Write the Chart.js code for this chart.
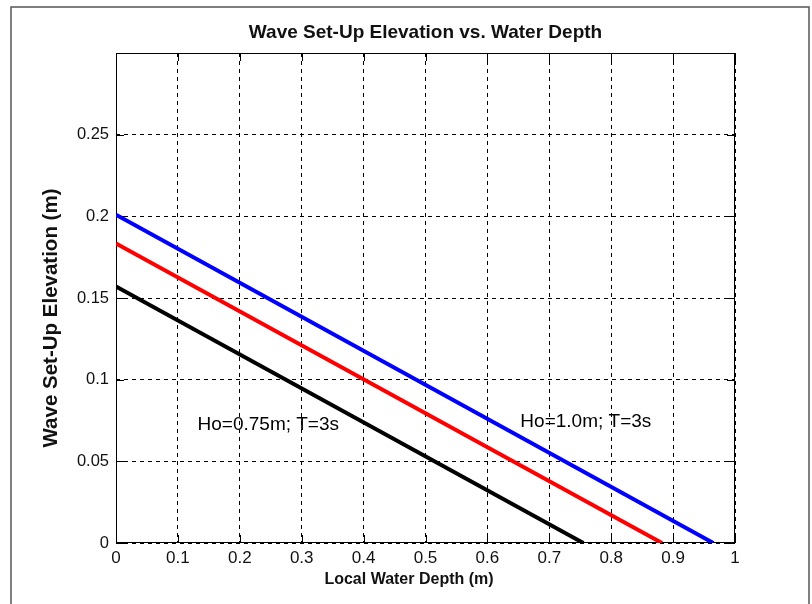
<!DOCTYPE html>
<html>
<head>
<meta charset="utf-8">
<script src="https://cdn.jsdelivr.net/npm/chart.js@4/dist/chart.umd.min.js"></script>
<style>
  body { margin: 0; background: #fff; }
  canvas { display: block; }
</style>
</head>
<body>
<canvas id="chart" width="812" height="604"></canvas>
<script>
'use strict';
// line end points (depth in m, set-up in m)
var depthBlue = [0, 0.965];
var setupBlue = [0.201, 0];
var depthRed = [0, 0.882];
var setupRed = [0.1834, 0];
var depthBlack = [0, 0.755];
var setupBlack = [0.157, 0];
var labelTexts = ['Ho=0.75m; T=3s', 'Ho=1.0m; T=3s'];

// where the two text labels sit, in data units
var labelPos = [{x: 0.246, y: 0.0722}, {x: 0.759, y: 0.074}];

function toPoints(xs, ys) {
	var pts = [];
	for (var i = 0; i < xs.length; i++) {
		pts.push({x: xs[i], y: ys[i]});
	}
	return pts;
}

Chart.defaults.font.family = 'Arial, "Liberation Sans", sans-serif';

function fmt(v) {
	return String(Number(v.toFixed(2)));
}

// matlab style box, inward ticks, frame and texts
var matlabBox = {
	id: 'matlabBox',
	beforeDatasetsDraw: function(chart) {
		var ctx = chart.ctx;
		var a = chart.chartArea;
		var xs = chart.scales.x, ys = chart.scales.y;
		ctx.save();
		ctx.strokeStyle = '#000';
		ctx.lineWidth = 1;
		ctx.setLineDash([]);
		ctx.strokeRect(a.left + 0.5, a.top + 0.5, a.right - a.left - 1, a.bottom - a.top - 1);
		var tl = 8;
		ctx.beginPath();
		xs.ticks.forEach(function(t) {
			var px = Math.round(xs.getPixelForValue(t.value)) + 0.5;
			ctx.moveTo(px, a.bottom);
			ctx.lineTo(px, a.bottom - tl);
			ctx.moveTo(px, a.top);
			ctx.lineTo(px, a.top + tl);
		});
		ys.ticks.forEach(function(t) {
			var py = Math.round(ys.getPixelForValue(t.value)) + 0.5;
			ctx.moveTo(a.left, py);
			ctx.lineTo(a.left + tl, py);
			ctx.moveTo(a.right, py);
			ctx.lineTo(a.right - tl, py);
		});
		ctx.stroke();
		ctx.restore();
	},
	afterDraw: function(chart) {
		var ctx = chart.ctx;
		var xs = chart.scales.x, ys = chart.scales.y;
		ctx.save();
		// outer figure frame
		ctx.strokeStyle = '#555';
		ctx.lineWidth = 1.5;
		ctx.beginPath();
		ctx.moveTo(11, 604);
		ctx.lineTo(11, 7);
		ctx.lineTo(809, 7);
		ctx.lineTo(809, 604);
		ctx.stroke();
		ctx.fillStyle = '#111';
		ctx.textAlign = 'center';
		ctx.textBaseline = 'middle';
		// axis titles
		ctx.font = 'bold 16px Arial, "Liberation Sans", sans-serif';
		ctx.fillText('Local Water Depth (m)', 409, 580);
		ctx.save();
		ctx.translate(51, 318);
		ctx.rotate(-Math.PI / 2);
		ctx.font = 'bold 20.5px Arial, "Liberation Sans", sans-serif';
		ctx.fillText('Wave Set-Up Elevation (m)', 0, 0);
		ctx.restore();
		// line labels
		ctx.font = '19px Arial, "Liberation Sans", sans-serif';
		ctx.fillStyle = '#000';
		for (var i = 0; i < labelTexts.length; i++) {
			ctx.fillText(labelTexts[i], xs.getPixelForValue(labelPos[i].x), ys.getPixelForValue(labelPos[i].y));
		}
		ctx.restore();
	}
};

var gridOpts = {
	color: '#000',
	lineWidth: 1,
	drawTicks: false,
	borderDash: [4, 4]
};

var ctx = document.getElementById('chart').getContext('2d');
var chart = new Chart(ctx, {
	type: 'scatter',
	data: {
		datasets: [
			{data: toPoints(depthBlue, setupBlue), borderColor: '#0000ff'},
			{data: toPoints(depthRed, setupRed), borderColor: '#ff0000'},
			{data: toPoints(depthBlack, setupBlack), borderColor: '#000000'}
		]
	},
	options: {
		responsive: false,
		animation: false,
		showLine: true,
		elements: {
			point: {radius: 0, hoverRadius: 0},
			line: {borderWidth: 4, tension: 0, fill: false}
		},
		layout: {padding: {left: 0, right: 77, top: 0, bottom: 0}},
		plugins: {
			legend: {display: false},
			tooltip: {enabled: false},
			title: {
				display: true,
				fullSize: false,
				text: 'Wave Set-Up Elevation vs. Water Depth',
				color: '#111',
				font: {size: 19, weight: 'bold'},
				padding: {top: 21.6, bottom: 8.6}
			}
		},
		scales: {
			x: {
				type: 'linear',
				min: 0,
				max: 1,
				afterFit: function(scale) { scale.height = 61; },
				ticks: {
					stepSize: 0.1,
					color: '#111',
					font: {size: 17},
					padding: 5,
					maxRotation: 0,
					callback: function(v) { return fmt(v); }
				},
				grid: gridOpts,
				border: {display: false, dash: [4, 4]}
			},
			y: {
				type: 'linear',
				min: 0,
				max: 0.3,
				afterFit: function(scale) { scale.width = 116; },
				ticks: {
					stepSize: 0.05,
					color: '#111',
					font: {size: 16.5},
					padding: 7,
					callback: function(v) { return v > 0.29 ? '' : fmt(v); }
				},
				grid: gridOpts,
				border: {display: false, dash: [4, 4]}
			}
		}
	},
	plugins: [matlabBox]
});
</script>
</body>
</html>
